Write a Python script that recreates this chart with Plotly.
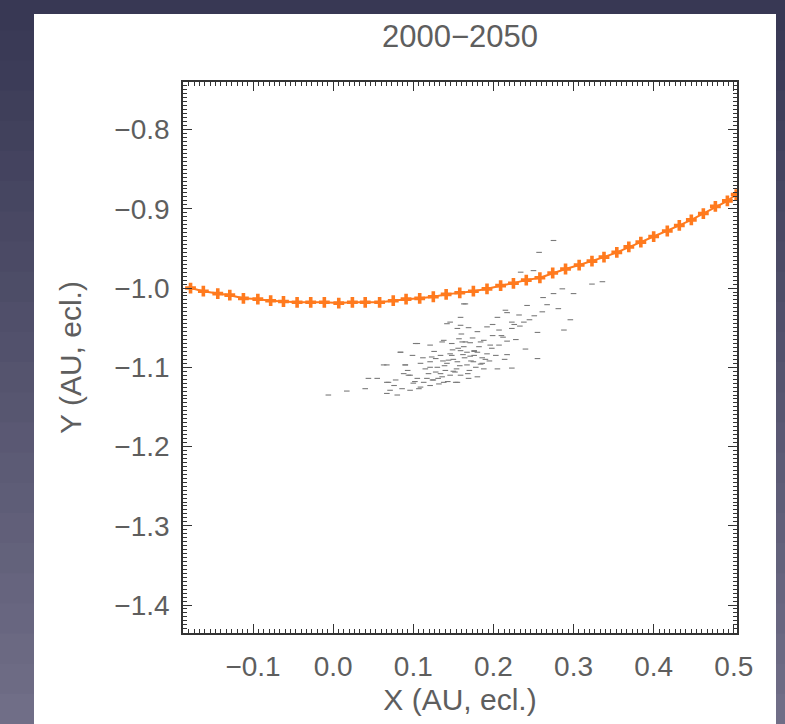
import plotly.graph_objects as go

# Orange track (X, Y in AU, ecliptic)
track_x = [-0.178, -0.162, -0.144, -0.129, -0.112, -0.094, -0.078, -0.062, -0.045, -0.028,
           -0.011, 0.007, 0.024, 0.040, 0.058, 0.075, 0.091, 0.108, 0.125, 0.141,
           0.158, 0.175, 0.192, 0.209, 0.225, 0.241, 0.258, 0.274, 0.290, 0.307,
           0.323, 0.338, 0.354, 0.369, 0.384, 0.400, 0.417, 0.432, 0.447, 0.462,
           0.477, 0.492, 0.503]
track_y = [-1.000, -1.004, -1.007, -1.009, -1.013, -1.014, -1.016, -1.017, -1.018, -1.018,
           -1.018, -1.019, -1.018, -1.018, -1.018, -1.016, -1.014, -1.013, -1.011, -1.008,
           -1.006, -1.004, -1.001, -0.997, -0.994, -0.990, -0.987, -0.981, -0.976, -0.971,
           -0.966, -0.961, -0.955, -0.948, -0.942, -0.935, -0.928, -0.921, -0.914, -0.906,
           -0.897, -0.890, -0.882]

# Gray cloud of points
cloud_x = [0.275, 0.257, 0.234, 0.250, 0.323, 0.336, 0.286, 0.300, 0.275, 0.163,
           0.242, 0.267, 0.215, 0.205, 0.217, 0.261, 0.232, 0.223, 0.146, 0.155,
           0.169, 0.180, 0.192, 0.207, 0.223, 0.238, 0.255, 0.288, 0.138, 0.148,
           0.161, 0.171, 0.184, 0.196, 0.217, 0.105, 0.121, 0.084, 0.099, 0.123,
           0.134, 0.146, 0.159, 0.167, 0.180, 0.192, 0.203, 0.217, 0.240, 0.255,
           0.109, 0.121, 0.130, 0.142, 0.155, 0.167, 0.175, 0.188, 0.205, 0.223,
           0.067, 0.090, 0.096, 0.105, 0.117, 0.125, 0.134, 0.146, 0.159, 0.169,
           0.180, 0.069, 0.078, 0.086, 0.096, 0.109, 0.121, 0.132, 0.153, 0.067,
           0.080, -0.006, 0.017, 0.044, 0.055, 0.040, 0.063, 0.067, 0.071, 0.084,
           0.088, 0.090, 0.094, 0.103, 0.121, 0.128, 0.136, 0.142, 0.148, 0.157,
           0.159, 0.159, 0.165, 0.138, 0.155, 0.113, 0.107,
           0.150, 0.158, 0.164, 0.172, 0.178, 0.186, 0.140, 0.152, 0.176, 0.190,
           0.198, 0.128, 0.136, 0.144, 0.163, 0.170, 0.182, 0.115, 0.100, 0.093,
           0.210, 0.228, 0.245, 0.195, 0.174, 0.160, 0.149, 0.137, 0.126, 0.112,
           0.154, 0.162, 0.168, 0.176, 0.184, 0.143, 0.131, 0.119, 0.188, 0.199,
           0.207, 0.214, 0.226, 0.186, 0.171, 0.156, 0.139, 0.124, 0.102, 0.076,
           0.233, 0.251, 0.262, 0.281, 0.296, 0.212, 0.199, 0.176, 0.165, 0.150]
cloud_y = [-0.940, -0.955, -0.980, -0.978, -0.995, -0.992, -1.001, -1.007, -1.007, -1.020,
           -1.022, -1.021, -1.028, -1.037, -1.031, -1.030, -1.034, -1.043, -1.043, -1.051,
           -1.050, -1.055, -1.049, -1.053, -1.051, -1.043, -1.056, -1.053, -1.066, -1.070,
           -1.068, -1.069, -1.068, -1.072, -1.067, -1.070, -1.072, -1.081, -1.085, -1.087,
           -1.085, -1.083, -1.079, -1.081, -1.081, -1.083, -1.085, -1.084, -1.077, -1.089,
           -1.095, -1.093, -1.100, -1.095, -1.093, -1.097, -1.093, -1.102, -1.102, -1.101,
           -1.097, -1.097, -1.110, -1.114, -1.114, -1.116, -1.108, -1.110, -1.110, -1.114,
           -1.112, -1.119, -1.116, -1.127, -1.129, -1.125, -1.123, -1.121, -1.119, -1.133,
           -1.135, -1.135, -1.130, -1.114, -1.114, -1.127, -1.097, -1.119, -1.129, -1.081,
           -1.108, -1.097, -1.110, -1.070, -1.100, -1.089, -1.068, -1.045, -1.085, -1.064,
           -1.037, -1.047, -1.020, -1.119, -1.119, -1.119, -1.127,
           -1.090, -1.098, -1.088, -1.092, -1.100, -1.095, -1.104, -1.106, -1.085, -1.090,
           -1.076, -1.106, -1.112, -1.091, -1.074, -1.104, -1.074, -1.102, -1.120, -1.104,
           -1.060, -1.065, -1.040, -1.092, -1.063, -1.058, -1.078, -1.092, -1.080, -1.088,
           -1.102, -1.084, -1.108, -1.079, -1.096, -1.118, -1.114, -1.108, -1.066, -1.060,
           -1.072, -1.090, -1.046, -1.088, -1.086, -1.076, -1.098, -1.116, -1.118, -1.123,
           -1.048, -1.035, -1.012, -1.026, -1.040, -1.062, -1.046, -1.080, -1.068, -1.105]

title_text = "2000\u22122050"
x_title = "X (AU, ecl.)"
y_title = "Y (AU, ecl.)"
x_range = [-0.1874, 0.504]
y_range = [-1.4353, -0.740]

fig = go.Figure()

fig.add_trace(go.Scatter(
    x=cloud_x, y=cloud_y, mode="markers",
    marker=dict(symbol="line-ew", size=4, color="#7a7a7a",
                line=dict(width=1.1, color="#7a7a7a")),
    hoverinfo="skip", showlegend=False))

fig.add_trace(go.Scatter(
    x=track_x, y=track_y, mode="lines+markers",
    line=dict(color="#ff7a1e", width=2),
    marker=dict(symbol="cross", size=9, color="#ff7a1e"),
    showlegend=False))

# page background (gradient bands) and white panel
W, H = 785, 724
L, R, T, B = 183, 737, 82, 633
pw, ph = R - L, B - T

def px(x):
    return (x - L) / pw

def py(y):
    return (B - y) / ph

shapes = []
nb = 24
c_top = (56, 56, 84)
c_bot = (112, 110, 135)
for i in range(nb):
    f = i / (nb - 1)
    c = tuple(int(c_top[k] + (c_bot[k] - c_top[k]) * f) for k in range(3))
    y0 = H * i / nb
    y1 = H * (i + 1) / nb + 1
    shapes.append(dict(type="rect", xref="paper", yref="paper", layer="below",
                       x0=px(-2), x1=px(W + 2), y0=py(y1), y1=py(y0),
                       fillcolor="rgb(%d,%d,%d)" % c, line=dict(width=0)))
shapes.append(dict(type="rect", xref="paper", yref="paper", layer="below",
                   x0=px(34), x1=px(776), y0=py(H + 2), y1=py(14),
                   fillcolor="white", line=dict(width=0)))

FONT = "Liberation Sans, Arial, sans-serif"
GRAY = "#5e5e5e"
tickfont = dict(family=FONT, size=28, color=GRAY)
axis_common = dict(
    showgrid=False, zeroline=False, showline=True, linecolor="#333333", linewidth=1.5,
    mirror="allticks", ticks="inside", ticklen=9, tickwidth=1.2, tickcolor="#333333",
    tickfont=tickfont, tickformat=".1f",
)

fig.update_layout(
    width=W, height=H,
    margin=dict(l=L, r=W - R, t=T, b=H - B),
    paper_bgcolor="rgba(0,0,0,0)",
    plot_bgcolor="white",
    shapes=shapes,
    title=dict(text=title_text, x=(L + R) / 2 / W, xanchor="center",
               y=1 - 36 / H, yanchor="middle",
               font=dict(family=FONT, size=31, color=GRAY)),
    xaxis=dict(range=x_range, dtick=0.1, tick0=0,
               minor=dict(dtick=0.1 / 15, ticklen=4, tickwidth=1, tickcolor="#333333", ticks="inside"),
               ticklabelstandoff=8,
               title=dict(text=x_title, standoff=8, font=dict(family=FONT, size=30, color=GRAY)),
               **axis_common),
    yaxis=dict(range=y_range, dtick=0.1, tick0=0,
               minor=dict(dtick=0.005, ticklen=4, tickwidth=1, tickcolor="#333333", ticks="inside"),
               ticklabelstandoff=6,
               title=dict(text=y_title, standoff=24, font=dict(family=FONT, size=30, color=GRAY)),
               **axis_common),
)

fig.write_html("out.html")
